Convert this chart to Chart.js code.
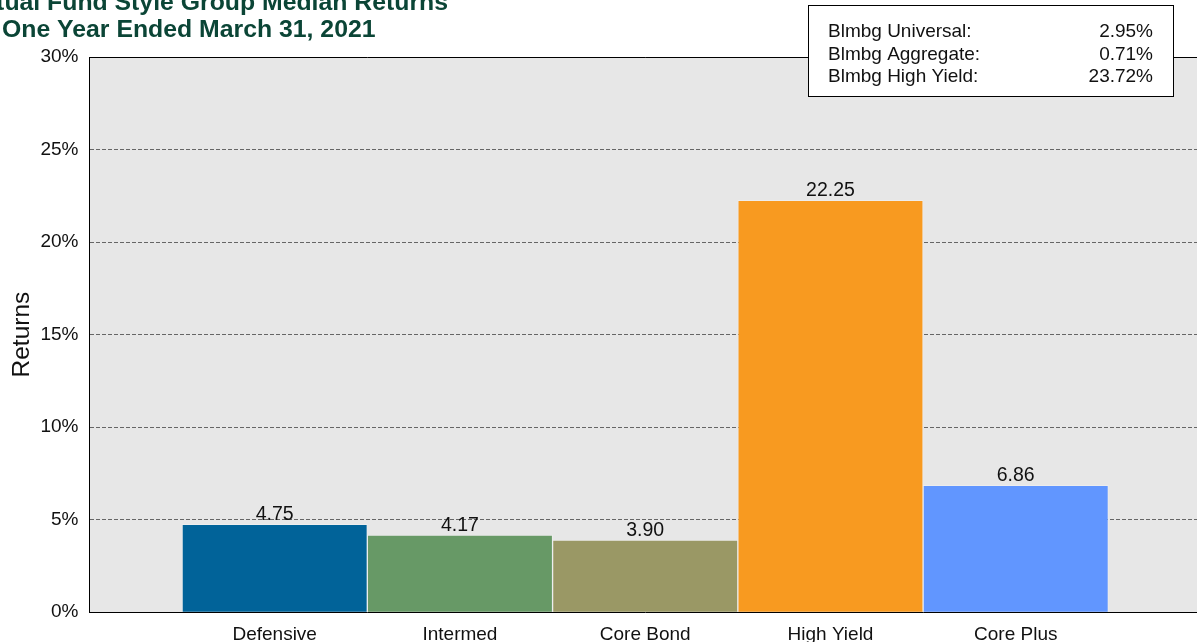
<!DOCTYPE html>
<html>
<head>
<meta charset="utf-8">
<script src="https://cdn.jsdelivr.net/npm/chart.js@4.4.1/dist/chart.umd.min.js"></script>
<style>
  html, body { margin: 0; padding: 0; overflow: hidden; background: #fff; }
  #chart { position: absolute; left: 0; top: 0; }
</style>
</head>
<body>
<canvas id="chart" width="1212" height="660"></canvas>
<script>
const categories = ['Defensive', 'Intermed', 'Core Bond', 'High Yield', 'Core Plus'];
const medianReturns = [4.75, 4.17, 3.90, 22.25, 6.86];
const barColors = ['#016399', '#679966', '#9a9865', '#f89a20', '#6196ff'];
const yTicks = [0, 5, 10, 15, 20, 25, 30];
const titleLines = ['Mutual Fund Style Group Median Returns', 'One Year Ended March 31, 2021'];
const indexNames = ['Blmbg Universal:', 'Blmbg Aggregate:', 'Blmbg High Yield:'];
const indexReturns = [2.95, 0.71, 23.72];

const FONT = '"Liberation Sans", Arial, sans-serif';

// one empty slot each side so the bars sit a full step in from the frame
const labels = [''].concat(categories, ['']);
const padded = [null].concat(medianReturns, [null]);
const paddedColors = ['#000'].concat(barColors, ['#000']);

const decor = {
  id: 'decor',
  beforeDraw(chart) {
    const { ctx, chartArea: a } = chart;
    ctx.save();
    ctx.fillStyle = '#e7e7e7';
    ctx.fillRect(a.left, a.top, a.right - a.left, a.bottom - a.top);
    ctx.restore();
  },
  afterDatasetsDraw(chart) {
    const { ctx } = chart;
    const meta = chart.getDatasetMeta(0);
    ctx.save();
    ctx.font = '19.5px ' + FONT;
    ctx.fillStyle = '#111';
    ctx.textAlign = 'center';
    ctx.textBaseline = 'alphabetic';
    meta.data.forEach((bar, i) => {
      const v = padded[i];
      if (v == null) return;
      ctx.fillText(v.toFixed(2), bar.x, bar.y - 4);
    });
    ctx.restore();
  },
  afterDraw(chart) {
    const { ctx, chartArea: a } = chart;
    ctx.save();
    // top frame line
    ctx.strokeStyle = '#000';
    ctx.lineWidth = 1;
    ctx.beginPath();
    ctx.moveTo(a.left, a.top + 0.5);
    ctx.lineTo(a.right, a.top + 0.5);
    ctx.stroke();

    // title
    ctx.fillStyle = '#0b4536';
    ctx.font = 'bold 24.8px ' + FONT;
    ctx.textAlign = 'right';
    ctx.fillText(titleLines[0], 448, 10);
    ctx.textAlign = 'left';
    ctx.fillText(titleLines[1], 2, 37);

    // index box
    ctx.fillStyle = '#fff';
    ctx.fillRect(808.5, 5.5, 365, 91);
    ctx.strokeStyle = '#000';
    ctx.strokeRect(808.5, 5.5, 365, 91);
    ctx.fillStyle = '#111';
    ctx.font = '19px ' + FONT;
    indexNames.forEach((name, i) => {
      const y = 37 + i * 22.5;
      ctx.textAlign = 'left';
      ctx.fillText(name, 828, y);
      ctx.textAlign = 'right';
      ctx.fillText(indexReturns[i].toFixed(2) + '%', 1153, y);
    });
    ctx.restore();
  }
};

new Chart(document.getElementById('chart'), {
  type: 'bar',
  data: {
    labels: labels,
    datasets: [{
      data: padded,
      backgroundColor: paddedColors,
      borderColor: 'rgba(255,255,255,0.25)',
      borderWidth: 1,
      barPercentage: 1,
      categoryPercentage: 1
    }]
  },
  options: {
    responsive: false,
    animation: false,
    // the scales reserve their tick padding twice, hence the odd numbers
    layout: { padding: { left: 8, top: 57, right: 4, bottom: 3 } },
    plugins: {
      legend: { display: false },
      tooltip: { enabled: false }
    },
    scales: {
      x: {
        offset: false,
        grid: { display: false, drawTicks: false },
        border: { display: true, color: '#000', width: 1 },
        ticks: {
          padding: 11,
          color: '#111',
          font: { family: FONT, size: 19 },
          maxRotation: 0,
          autoSkip: false
        }
      },
      y: {
        min: 0,
        max: 30,
        afterBuildTicks(scale) {
          scale.ticks = yTicks.map(v => ({ value: v }));
        },
        grid: {
          color: (c) => (c.tick && (c.tick.value === 0 || c.tick.value === 30)) ? 'rgba(0,0,0,0)' : '#666',
          lineWidth: 1,
          drawTicks: false
        },
        border: { display: true, color: '#000', width: 1, dash: [4, 2] },
        ticks: {
          padding: 11,
          color: '#111',
          font: { family: FONT, size: 19 },
          callback: (v) => v + '%'
        },
        title: {
          display: true,
          text: 'Returns',
          color: '#111',
          font: { family: FONT, size: 24.5 },
          padding: { top: 0, bottom: -8 }
        }
      }
    }
  },
  plugins: [decor]
});
</script>
</body>
</html>
